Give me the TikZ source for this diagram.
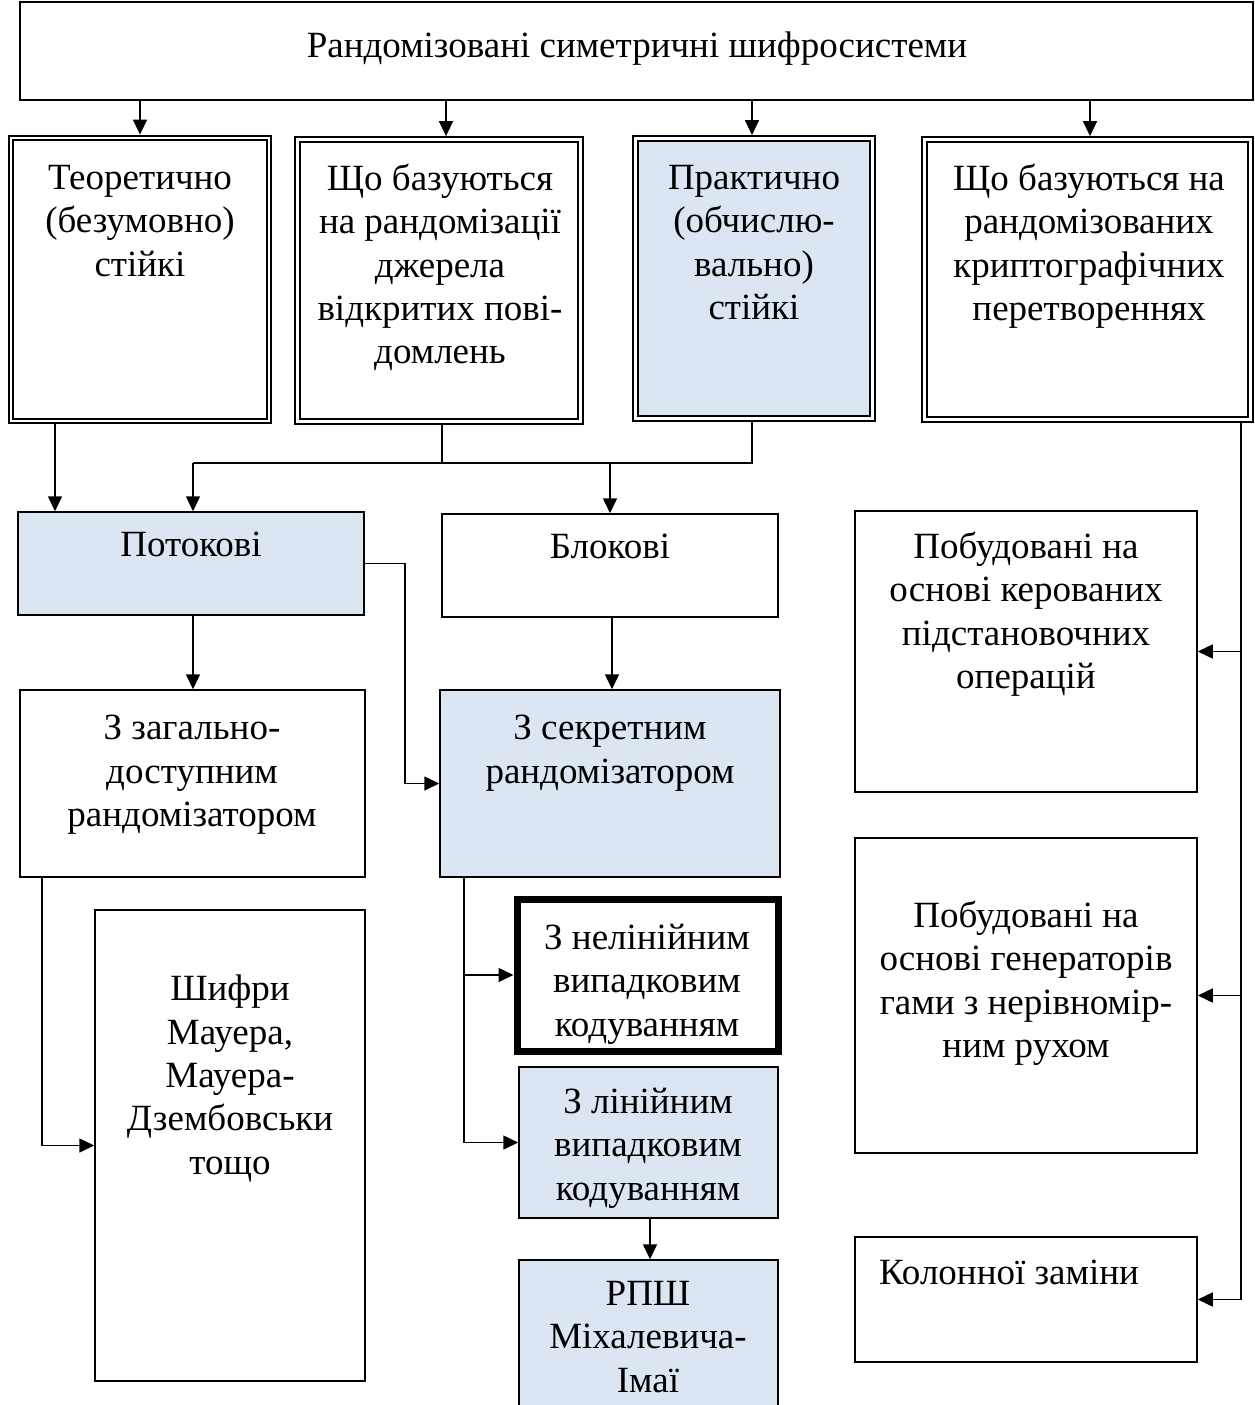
\documentclass[tikz,border=0pt]{standalone}
\usepackage{fontspec}
\setmainfont{Liberation Serif}
\usetikzlibrary{arrows.meta}
\definecolor{paleblue}{RGB}{220,230,242}
\begin{document}
\begin{tikzpicture}[x=1pt,y=-1pt,
  box/.style={draw, line width=1.5pt, inner sep=0pt, outer sep=0.75pt},
  dbox/.style={draw, double, line width=2.2pt, double distance=2.4pt, inner sep=0pt, outer sep=3.4pt},
  heavy/.style={draw, line width=7pt, inner sep=0pt, outer sep=3.5pt},
  tinted/.style={fill=paleblue},
  txt/.style={anchor=north, inner sep=0pt, align=center,
    font=\fontsize{37}{43.3}\selectfont, execute at begin node=\strut},
  conn/.style={line width=1.6pt},
  arr/.style={conn, -{Triangle[length=15pt,width=14pt]}},
]
\clip (0,0) rectangle (1255,1405);
\fill[white] (0,0) rectangle (1255,1405);

% title box
\node[box, minimum width=1233pt, minimum height=98pt] (top) at (636.5,51) {};
\node[txt] (ttop) at (637,27) {Рандомізовані симетричні шифросистеми};

% four main classes (double frames)
\node[dbox, minimum width=258pt, minimum height=283pt] (b1) at (140,279.5) {};
\node[dbox, minimum width=283pt, minimum height=282pt] (b2) at (439,280.5) {};
\node[dbox, tinted, minimum width=237pt, minimum height=280pt] (b3) at (754,278.5) {};
\node[dbox, minimum width=326pt, minimum height=280pt] (b4) at (1087.5,279.5) {};
\node[txt] (t1) at (140,165) {Теоретично\\(безумовно)\\стійкі};
\node[txt] (t2) at (440,164) {Що базуються\\на рандомізації\\джерела\\відкритих пові-\\домлень};
\node[txt] (t3) at (754,165) {Практично\\(обчислю-\\вально)\\стійкі};
\node[txt] (t4) at (1089,164) {Що базуються на\\рандомізованих\\криптографічних\\перетвореннях};

% second level
\node[box, tinted, minimum width=346pt, minimum height=103pt] (pot) at (191,563.5) {};
\node[txt] (tpot) at (191,526) {Потокові};
\node[box, minimum width=336pt, minimum height=103pt] (blk) at (610,565.5) {};
\node[txt] (tblk) at (610,528) {Блокові};

\node[box, minimum width=345pt, minimum height=187pt] (zag) at (192.5,783.5) {};
\node[txt] (tzag) at (192,715) {З загально-\\доступним\\рандомізатором};
\node[box, tinted, minimum width=340pt, minimum height=187pt] (sec) at (610,783.5) {};
\node[txt] (tsec) at (610,715) {З секретним\\рандомізатором};

\node[box, minimum width=270pt, minimum height=471pt] (shf) at (230,1145.5) {};
\node[txt] (tshf) at (230,975) {Шифри\\Мауера,\\Мауера-\\Дзембовськи\\тощо};

\node[heavy, minimum width=261.5pt, minimum height=152pt] (nel) at (647.75,975) {};
\node[txt] (tnel) at (647,924) {З нелінійним\\випадковим\\кодуванням};
\node[box, tinted, minimum width=259pt, minimum height=151pt] (lin) at (648.5,1142.5) {};
\node[txt] (tlin) at (648,1088) {З лінійним\\випадковим\\кодуванням};
\node[box, tinted, minimum width=259pt, minimum height=160pt] (rpsh) at (648.5,1340) {};
\node[txt] (trpsh) at (648,1281) {РПШ\\Міхалевича-\\Імаї};

% right column
\node[box, minimum width=342pt, minimum height=281pt] (r1) at (1026,651.5) {};
\node[txt] (tr1) at (1026,532) {Побудовані на\\основі керованих\\підстановочних\\операцій};
\node[box, minimum width=342pt, minimum height=315pt] (r2) at (1026,995.5) {};
\node[txt] (tr2) at (1026,901) {Побудовані на\\основі генераторів\\гами з нерівномір-\\ним рухом};
\node[box, minimum width=342pt, minimum height=125pt] (r3) at (1026,1299.5) {};
\node[txt] (tr3) at (1009,1254) {Колонної заміни};

% connectors from the title box
\draw[arr] (top.south -| 140,0) -- (b1.north -| 140,0);
\draw[arr] (top.south -| 446,0) -- (b2.north -| 446,0);
\draw[arr] (top.south -| 752,0) -- (b3.north -| 752,0);
\draw[arr] (top.south -| 1090,0) -- (b4.north -| 1090,0);

% to stream and block ciphers
\coordinate (j) at (0,463);
\draw[arr] (b1.south -| 55,0) -- (pot.north -| 55,0);
\draw[conn] (b2.south -| 442,0) -- (442,0 |- j);
\draw[conn] (b3.south -| 752,0) -- (752,0 |- j) -- (193,0 |- j);
\draw[arr] (193,0 |- j) -- (pot.north -| 193,0);
\draw[arr] (610,0 |- j) -- (blk.north);

\draw[arr] (pot.east) -| (405,0 |- sec.west) -- (sec.west);
\draw[arr] (pot.south -| 193,0) -- (zag.north -| 193,0);
\draw[arr] (blk.south -| 612,0) -- (sec.north -| 612,0);

\draw[arr] (zag.south -| 42,0) |- (shf.west);
\draw[arr] (sec.south -| 464,0) |- (lin.west);
\draw[arr] (464,0 |- nel.west) -- (nel.west);
\draw[arr] (lin.south -| 650,0) -- (rpsh.north -| 650,0);

% right-hand bus
\draw[arr] (b4.south -| 1241,0) |- (r3.east);
\draw[arr] (1241,0 |- r1.east) -- (r1.east);
\draw[arr] (1241,0 |- r2.east) -- (r2.east);
\end{tikzpicture}
\end{document}
